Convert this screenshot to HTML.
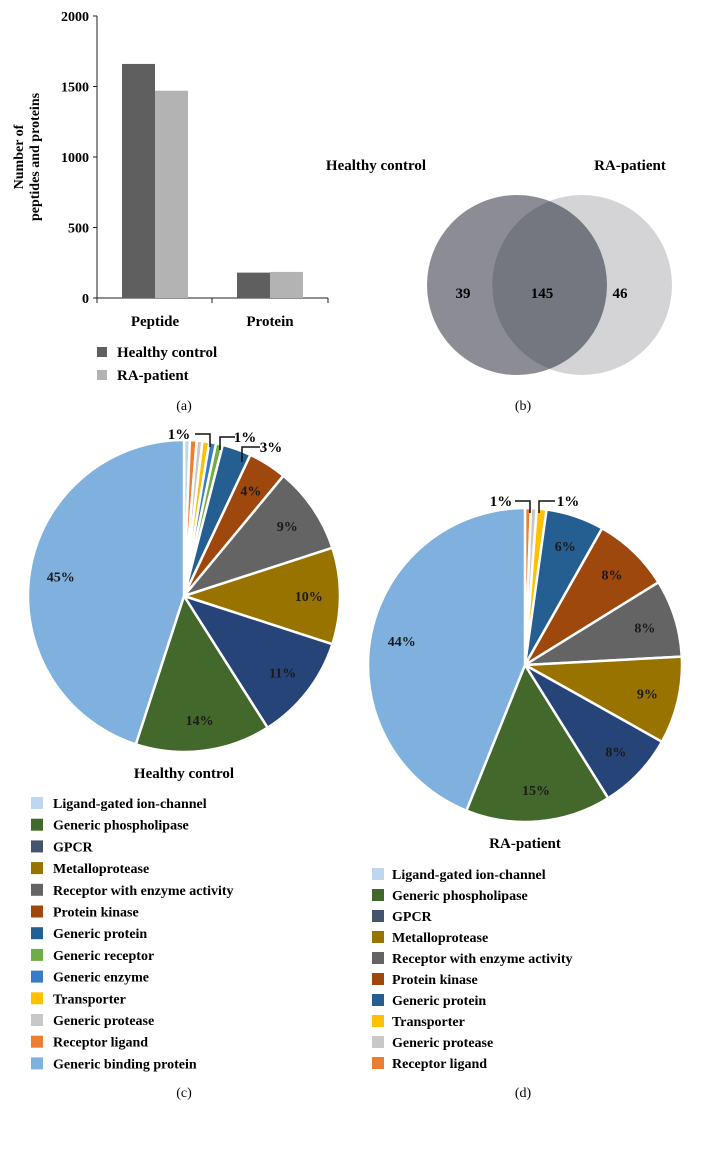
<!DOCTYPE html>
<html><head><meta charset="utf-8"><style>
body{margin:0;background:#fff;}
svg{display:block;font-family:"Liberation Serif",serif;font-weight:bold;}
</style></head><body>
<svg id="s" width="709" height="1155" viewBox="0 0 709 1155">
<g id="bar"></g>
<g id="venn">
<circle cx="517" cy="285" r="90" fill="#8b8c94"/>
<circle cx="582" cy="285" r="90" fill="#d4d4d6"/>
<clipPath id="cl"><circle cx="517" cy="285" r="90"/></clipPath>
<circle cx="582" cy="285" r="90" fill="#74777f" clip-path="url(#cl)"/>
<text x="376" y="170" font-size="15" text-anchor="middle">Healthy control</text>
<text x="630" y="170" font-size="15" text-anchor="middle">RA-patient</text>
<text x="463" y="298" font-size="15" text-anchor="middle">39</text>
<text x="542" y="298" font-size="15" text-anchor="middle">145</text>
<text x="620" y="298" font-size="15" text-anchor="middle">46</text>
</g>
<text x="184" y="410" font-size="14" font-weight="normal" text-anchor="middle">(a)</text>
<text x="523" y="410" font-size="14" font-weight="normal" text-anchor="middle">(b)</text>
<text x="184" y="1097" font-size="14" font-weight="normal" text-anchor="middle">(c)</text>
<text x="523" y="1097" font-size="14" font-weight="normal" text-anchor="middle">(d)</text>
<g id="pc"></g>
<g id="pd"></g>
<text x="184" y="778" font-size="15" text-anchor="middle">Healthy control</text>
<text x="525" y="848" font-size="15" text-anchor="middle">RA-patient</text>
<g id="lc"></g>
<g id="ld"></g>
</svg>
<script>
const barCats=["Peptide","Protein"];
const healthyVals=[1660,180];
const raVals=[1470,185];
const yTicks=[0,500,1000,1500,2000];

const pieCatsC=["Ligand-gated ion-channel","Receptor ligand","Generic protease","Transporter","Generic enzyme","Generic receptor","Generic protein","Protein kinase","Receptor with enzyme activity","Metalloprotease","GPCR","Generic phospholipase","Generic binding protein"];
const pieValsC=[0.6,0.7,0.6,0.7,0.7,0.7,3,4,9,10,11,14,45];
const pieLabelsC=["","","","","","","","4%","9%","10%","11%","14%","45%"];
const pieCatsD=["Receptor ligand","Generic protease","Transporter","Generic protein","Protein kinase","Receptor with enzyme activity","Metalloprotease","GPCR","Generic phospholipase","Generic binding protein"];
const pieValsD=[0.6,0.6,1,6,8,8,9,8,15,44];
const pieLabelsD=["","","","6%","8%","8%","9%","8%","15%","44%"];
const legendC=["Ligand-gated ion-channel","Generic phospholipase","GPCR","Metalloprotease","Receptor with enzyme activity","Protein kinase","Generic protein","Generic receptor","Generic enzyme","Transporter","Generic protease","Receptor ligand","Generic binding protein"];
const legendD=["Ligand-gated ion-channel","Generic phospholipase","GPCR","Metalloprotease","Receptor with enzyme activity","Protein kinase","Generic protein","Transporter","Generic protease","Receptor ligand"];

const colors={"Ligand-gated ion-channel":"#bdd7ee","Generic phospholipase":"#43682b","GPCR":"#44546a","Metalloprotease":"#987300","Receptor with enzyme activity":"#646464","Protein kinase":"#9e480e","Generic protein":"#255e91","Generic receptor":"#70ad47","Generic enzyme":"#3a7bc8","Transporter":"#ffc000","Generic protease":"#c8c8c8","Receptor ligand":"#ed7d31","Generic binding protein":"#7fb0de"};
const sliceColors=Object.assign({},colors,{"GPCR":"#264478"});
const NS="http://www.w3.org/2000/svg";
function el(p,t,a,txt){const e=document.createElementNS(NS,t);for(const k in a)e.setAttribute(k,a[k]);if(txt!==undefined)e.textContent=txt;p.appendChild(e);return e;}

const bar=document.getElementById('bar');
const y0=298,yTop=16,x0=97;
const yS=v=>y0-(v/2000)*(y0-yTop);
const groupX=i=>155+i*115;
let e;
e=el(bar,'line',{x1:x0,y1:yTop,x2:x0,y2:y0,stroke:'#222','stroke-width':1});

e=el(bar,'line',{x1:x0,y1:y0,x2:328,y2:y0,stroke:'#222','stroke-width':1});

[97,212,328].forEach(x=>el(bar,'line',{x1:x,y1:y0,x2:x,y2:y0+5,stroke:'#222'}));
yTicks.forEach(t=>{
 el(bar,'line',{x1:x0-4,y1:yS(t),x2:x0,y2:yS(t),stroke:'#222'});
 e=el(bar,'text',{x:x0-8,y:yS(t)+5,'font-size':14,'text-anchor':'end'},String(t));
 
});
barCats.forEach((c,i)=>{
 const gx=groupX(i);
 e=el(bar,'rect',{x:gx-33,y:yS(healthyVals[i]),width:33,height:y0-yS(healthyVals[i]),fill:'#5f5f5f'});
 
 e=el(bar,'rect',{x:gx,y:yS(raVals[i]),width:33,height:y0-yS(raVals[i]),fill:'#b3b3b3'});
 
 e=el(bar,'text',{x:gx,y:326,'font-size':15,'text-anchor':'middle'},c);
 
});
e=el(bar,'text',{transform:'translate(23,157) rotate(-90)','font-size':14,'text-anchor':'middle'});

el(e,'tspan',{x:0,y:0},'Number of');el(e,'tspan',{x:0,y:16},'peptides and proteins');
[['Healthy control','#5f5f5f',352],['RA-patient','#b3b3b3',375]].forEach(([n,c,y])=>{
 e=el(bar,'rect',{x:97,y:y-5,width:10,height:10,fill:c});
 
 e=el(bar,'text',{x:117,y:y+5,'font-size':15},n);
 
});

function pie(g,cx,cy,r,cats,vals,labels){
 const tot=vals.reduce((a,b)=>a+b,0);let a=0;
 cats.forEach((c,i)=>{
  const a1=a,a2=a+vals[i]/tot*2*Math.PI;a=a2;
  const p=t=>[cx+r*Math.sin(t),cy-r*Math.cos(t)];
  const [x1,y1]=p(a1),[x2,y2]=p(a2);
  const s=el(g,'path',{d:`M${cx},${cy}L${x1},${y1}A${r},${r} 0 ${a2-a1>Math.PI?1:0} 1 ${x2},${y2}Z`,fill:sliceColors[c],stroke:'#fff','stroke-width':2.5,'stroke-linejoin':'round'});
  
  if(labels[i]){const m=(a1+a2)/2,rr=r*(vals[i]>30?0.8:0.8);
   const t=el(g,'text',{x:cx+rr*Math.sin(m),y:cy-rr*Math.cos(m)+5,'font-size':14,'text-anchor':'middle',fill:'#1a1a1a'},labels[i]);
   }
 });
}
pie(document.getElementById('pc'),184,596,156,pieCatsC,pieValsC,pieLabelsC);
pie(document.getElementById('pd'),525,665,157,pieCatsD,pieValsD,pieLabelsD);
const pc=document.getElementById('pc');
[['1%',179,439,'M195,434 L210,434 L210,447'],['1%',245,442,'M235,437 L220,437 L220,450'],['3%',271,452,'M260,447 L242,447 L242,462']].forEach(([t,x,y,d])=>{
 el(pc,'path',{d,stroke:'#111',fill:'none','stroke-width':1.5});
 e=el(pc,'text',{x,y,'font-size':15,'text-anchor':'middle'},t);
 
});
const pd=document.getElementById('pd');
[['1%',501,506,'M515,501 L530,501 L530,513'],['1%',568,506,'M555,501 L539,501 L539,513']].forEach(([t,x,y,d])=>{
 el(pd,'path',{d,stroke:'#111',fill:'none','stroke-width':1.5});
 e=el(pd,'text',{x,y,'font-size':15,'text-anchor':'middle'},t);
 
});

function legend(g,x,y,dy,items,tx){
 items.forEach((n,i)=>{
  e=el(g,'rect',{x,y:y+i*dy-6,width:12,height:12,fill:colors[n]});
  
  e=el(g,'text',{x:tx,y:y+i*dy+5,'font-size':14},n);
  
 });
}
legend(document.getElementById('lc'),31,803,21.7,legendC,53);
legend(document.getElementById('ld'),372,874,21,legendD,392);
</script>
</body></html>
